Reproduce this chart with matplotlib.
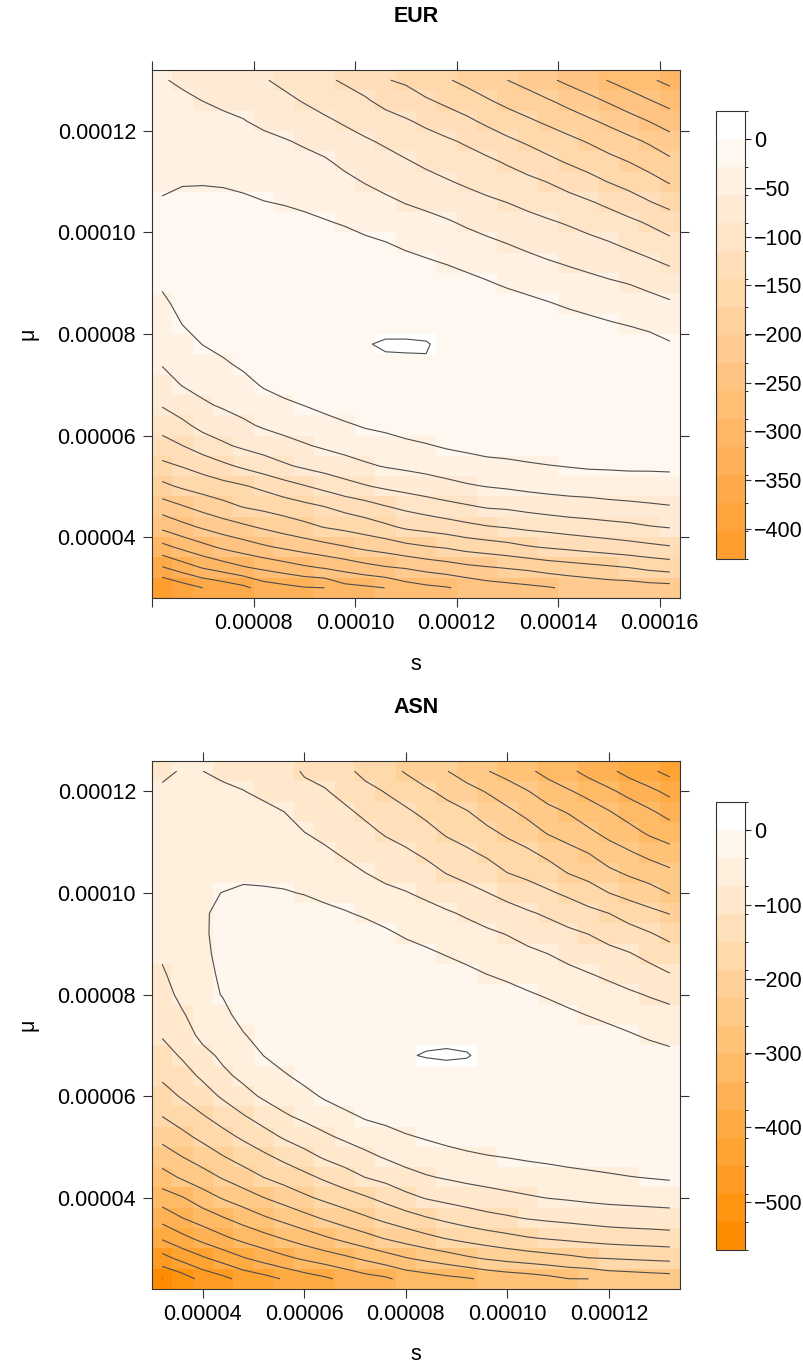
import numpy as np
import matplotlib
matplotlib.use("Agg")
import matplotlib.pyplot as plt
from matplotlib.colors import ListedColormap, BoundaryNorm, to_rgb
from matplotlib.cm import ScalarMappable

plt.rcParams['font.family'] = ['Liberation Sans', 'DejaVu Sans']

# parameter grids: s along x, mu along y
eur_s = np.round(np.linspace(0.000062, 0.000162, 26), 7)
eur_mu = np.round(np.linspace(0.000030, 0.000130, 26), 7)
asn_s = np.round(np.linspace(0.000032, 0.000132, 26), 7)
asn_mu = np.round(np.linspace(0.000024, 0.000124, 26), 7)

# log-likelihood surface, one list per s value (mu from low to high)
eur_ll = [
    [-402.5, -347, -296, -252, -215, -179, -150, -126, -104, -84, -69, -56, -48, -41, -33, -25.5, -23, -22.5, -23.5, -27, -32, -37, -42, -48, -53, -56],
    [-388, -330, -281, -238, -203, -168, -142, -115, -92, -72.5, -56, -47, -37, -28, -22, -18, -16, -15.5, -17, -22, -30.5, -36, -42, -48, -54, -60],
    [-373.5, -314, -267, -226, -191, -160, -132, -101, -78, -61, -49, -39, -28, -20, -14, -11, -10, -10, -12, -18, -31, -37, -43.5, -50.5, -57.5, -64],
    [-364, -302, -254, -215, -181, -153, -120.5, -90, -71, -54, -43, -32, -22, -14, -9, -7, -6, -6.5, -9, -20, -32, -38.5, -45.5, -53.5, -61, -68],
    [-352, -290, -244, -206, -171, -146, -110, -81, -62, -48, -36, -24.5, -15, -8, -4, -2.5, -3, -6, -14, -25, -33, -41, -48.5, -56.5, -64, -71.5],
    [-332, -281, -234, -197, -165, -137, -100, -74, -54, -39.5, -26, -16, -8, -3, -2, -1.5, -2.5, -5, -13, -28, -36, -44, -52, -62, -74, -84],
    [-325, -272, -226, -188, -158.5, -126, -90, -66, -48.5, -33.5, -19, -10, -4, -1.5, -1, -1.5, -3, -10, -21, -30, -38.5, -47, -55.5, -68, -80, -92],
    [-318, -263, -218, -180, -151, -116.5, -81.5, -59.5, -43.5, -28, -15, -6, -1.5, -0.5, -0.5, -1, -4, -12, -23.5, -33, -41.5, -50.5, -60.5, -74.5, -88, -101],
    [-316, -256, -210.5, -171, -143.5, -106.5, -74.5, -53.5, -38, -21.5, -10, -3.5, -0.8, -0.3, -0.5, -1.5, -6, -16, -27, -36.5, -45.5, -54.5, -67, -82, -96, -110.5],
    [-297, -248, -203, -165, -134, -96, -68, -48, -32, -14.5, -5, -1, -0.8, -0.6, -0.8, -2, -7, -20.5, -30.5, -41, -51.5, -63, -76, -89.5, -104.5, -118],
    [-292.5, -239, -195, -158, -126, -88, -61, -43, -26, -10, -3, -0.7, -0.15, -0.8, -1.5, -4, -12, -24.5, -35.5, -47, -58.5, -70.5, -83, -97.5, -112, -126],
    [-287, -232, -189, -149, -116, -81, -55.5, -39, -22.5, -8, -2, -1, 1.0, -2, -3.5, -7, -14, -28, -40.5, -52.5, -65, -77, -90, -105.5, -122.5, -142],
    [-272, -227.5, -180.5, -139, -108, -75.5, -52, -34.5, -17, -6, -2.5, -1.8, 1.8, -4.4, -5.5, -11, -21, -33.5, -45.5, -58.5, -71.5, -84, -98, -112.5, -130, -148],
    [-265, -220, -174.5, -134, -101, -70.5, -48.5, -30.5, -12.5, -4, -1.2, -0.15, 0.6, -1.7, -7, -15, -25.5, -37.5, -49.5, -63.5, -77.5, -91.5, -105, -120.5, -140.5, -160.5],
    [-260.5, -214, -170, -128.5, -94.5, -65, -44.5, -25.5, -10, -3.5, -1.5, -1, -1.15, -3, -7, -17, -29.5, -42, -54.5, -69.5, -84, -97.5, -111, -130, -149.5, -169.5],
    [-252, -207.5, -162.5, -122, -89, -60, -40.5, -22, -8.5, -3, -1.5, -1.5, -2.5, -5, -10, -21.5, -34.5, -47.5, -61, -76, -90, -103.5, -118.5, -138.5, -159, -179.5],
    [-244, -203, -158, -116.5, -83.5, -56.5, -37, -18, -7, -3, -2, -2.5, -4, -7, -14, -26.5, -39.5, -53, -66.5, -81.5, -96, -110, -128, -149.5, -170, -189],
    [-240, -199, -153, -113, -81.5, -53.5, -35, -16.5, -6.5, -3, -2.5, -3.5, -5.5, -9, -18, -32, -45, -58, -72, -86.5, -102, -118, -138.5, -159.5, -180, -201],
    [-236, -195, -146, -108.5, -77, -50, -32, -14, -6, -3, -3, -4.5, -7, -11, -22.5, -36.5, -50, -63.5, -77.5, -93, -108.5, -127, -147.5, -168.5, -189, -211],
    [-232, -188.5, -141.5, -105, -73, -47.5, -29.5, -11.5, -5.5, -3.5, -3.5, -5.5, -8.5, -16, -27, -41.5, -55, -69, -83, -99.5, -115.5, -137, -157, -177.5, -199, -224.5],
    [-225.5, -184.5, -137.5, -101, -70, -45.5, -27.5, -11, -5.5, -4, -4, -6.5, -10, -18.5, -32, -46, -59.5, -74, -88.5, -105.5, -124.5, -146.5, -165.5, -187, -210, -236.5],
    [-221.5, -180.5, -133, -98, -68, -44.5, -25.5, -10.5, -5.5, -4.5, -5, -7.5, -12, -22.5, -36, -50, -64, -79.5, -95, -112.5, -134.5, -155, -174.5, -197, -221.5, -248],
    [-217.5, -176.5, -129, -95, -65, -43, -25, -10, -5.5, -5, -6, -9, -15, -26.5, -40, -54, -69.5, -85, -101.5, -121, -144.5, -164.5, -184.5, -207.5, -233.5, -260],
    [-216.5, -172, -125, -92, -63, -42, -24, -10, -6, -5.5, -7, -10.5, -16, -30, -43.5, -58, -75, -92, -109, -131.5, -153.5, -173, -194, -219.5, -245.5, -271.5],
    [-213, -165.5, -121, -87.5, -60, -44.5, -23, -10, -6.5, -6, -8, -12.5, -20, -34, -48.5, -64, -81.5, -99.5, -118, -142.5, -163, -183.5, -205, -231, -257.5, -283],
    [-211.5, -161, -117, -84.5, -58.5, -40.5, -23.5, -10.5, -7, -7, -9.5, -16, -26.5, -40, -54, -71, -89, -108, -129, -152.5, -174.5, -195.5, -218.5, -243.5, -269, -295],
]

asn_ll = [
    [-528, -466, -410, -362.5, -319, -278.5, -244.5, -215, -188, -165, -144, -127, -110, -100.5, -90.5, -80, -70, -64, -59, -56, -55, -56, -60, -65, -72, -79],
    [-508, -441, -387, -339, -303, -258.5, -226, -197, -171, -146.5, -126.5, -108.5, -93, -78.5, -64.5, -57, -52, -49, -47, -46, -46, -48, -52, -58, -65, -73.5],
    [-478, -420, -365, -321, -280, -241, -208.5, -179, -153, -128.5, -106.5, -86.5, -65, -56, -49, -44, -41, -39.5, -39, -40, -42, -46, -52, -59, -67, -75],
    [-461.5, -400, -346, -303, -260, -222.5, -190, -161.5, -135, -107.5, -82.5, -67.5, -56.5, -46, -35.5, -33.5, -32.5, -32.5, -34, -37, -43.5, -50.5, -58, -64.5, -71.5, -79],
    [-440, -380, -328.5, -285.5, -243.5, -205, -173.5, -144.5, -115.5, -86.5, -67, -53.5, -39.5, -26, -20, -17, -16, -17, -24, -34, -42, -50, -58.5, -66.5, -74.5, -82.5],
    [-428, -363, -314, -268, -226, -188, -158, -127, -97, -70, -53.5, -37, -25, -17, -12, -10, -10, -14, -22, -34.5, -43, -52, -61.5, -70, -79.5, -90],
    [-411, -347.5, -299, -252.5, -210.5, -174, -142, -108.5, -79.5, -59, -41, -23, -14, -8, -5, -4.5, -6, -10, -21, -35.5, -45, -55, -65, -75, -86, -98],
    [-395.5, -334, -283.5, -237, -194.5, -160, -125.5, -94, -68, -47.5, -27.5, -16, -8, -3.5, -1.5, -1, -5, -13, -26.5, -38.5, -49.5, -61.5, -75, -89, -102.5, -117],
    [-383, -321.5, -268.5, -221.5, -180, -144.5, -108.5, -80.5, -57, -33, -19, -10, -4.5, -1.5, -0.8, -1.5, -7, -17, -30.5, -44, -57, -70, -83.5, -97, -110, -124.5],
    [-367, -309.5, -253.5, -206, -167.5, -128.5, -96, -69, -45.5, -21, -10.5, -4.5, -1.5, -0.6, -0.6, -2, -9, -20, -35, -50.5, -65.5, -79.5, -93.5, -107, -122.5, -141.5],
    [-353.5, -295.5, -238.5, -192.5, -154, -112.5, -84, -58, -33.5, -14, -5, -1.5, -0.5, -0.5, -1.5, -5, -13, -25, -41.5, -58.5, -75, -89, -104, -119.5, -139.5, -160.5],
    [-345, -281, -223.5, -178, -139, -102, -72, -49.5, -27.5, -10, -2.5, -0.6, -0.4, -1, -2.5, -7, -17, -32.5, -49.5, -67.5, -84, -99.5, -116.5, -134.5, -152, -173.5],
    [-327.5, -266.5, -210.5, -165, -123, -87.5, -62, -40.5, -19.5, -6.5, -2.5, -0.3, -0.6, -2, -4.5, -11, -25.5, -41.5, -57, -73.5, -90.5, -108, -126.5, -145, -167, -191.5],
    [-320, -255, -198, -152.5, -110, -78, -55.5, -34, -14, -4, -3.5, 0.8, -1.5, -4, -8, -17, -32, -48, -64, -81.5, -100.5, -119.5, -139, -159.5, -182.5, -209],
    [-311.5, -244.5, -186.5, -141.5, -102, -72, -49.5, -27.5, -11, -4.5, -3.5, 1.5, -2, -5.5, -12, -23, -39, -55, -71, -92.5, -114, -134, -155.5, -175, -197, -224.5],
    [-305, -232.5, -176.5, -131.5, -95.5, -66, -44, -22, -9, -4.5, -3.5, 0.9, -2.5, -6.5, -16, -30, -46, -62, -79.5, -102, -123.5, -145, -166, -186, -213.5, -242.5],
    [-294.5, -223, -168, -123, -89, -62, -39.5, -17.5, -8, -4.5, -4, -2, -4.5, -9, -22, -37.5, -53.5, -69.5, -89, -112, -134.5, -157, -180.5, -204, -228, -262],
    [-287.5, -215, -160.5, -117, -83.5, -58, -36.5, -17, -8, -5, -5, -4, -7, -13, -26.5, -44, -60.5, -76.5, -99, -123.5, -150.5, -172, -195, -218.5, -246, -276.5],
    [-282.5, -208.5, -153, -110.5, -78.5, -54.5, -33, -16, -8, -5.5, -5.5, -5.5, -9, -19, -34, -51.5, -67.5, -87, -108.5, -135, -159.5, -182.5, -209.5, -236, -262, -293.5],
    [-275, -202.5, -148, -106, -74, -51.5, -30, -14.5, -8, -6, -6.5, -7.5, -12, -24, -41, -58.5, -75, -96.5, -118, -145.5, -171, -198.5, -229.5, -253, -281, -314],
    [-264, -197, -143.5, -102.5, -71, -48, -26.5, -13.5, -8, -6.5, -7.5, -9.5, -17, -31.5, -48.5, -66, -84.5, -105.5, -129, -157, -189.5, -215, -241, -266, -297.5, -329.5],
    [-263.5, -190, -139.5, -98.5, -67.5, -45, -23.5, -12.5, -8, -7, -8.5, -12, -20, -38.5, -55.5, -73.5, -93.5, -113.5, -140, -171.5, -201, -227, -257.5, -283.5, -312.5, -352],
    [-251, -188, -135, -95, -65, -42, -20, -12, -8, -7.5, -9.5, -15, -28, -45, -62.5, -81.5, -102.5, -125.5, -150.5, -188, -218, -247, -274.5, -299, -332, -368],
    [-248, -185, -132.5, -93, -63.5, -38.5, -18, -11.5, -8, -8, -10.5, -20, -34.5, -52.5, -70, -90.5, -110.5, -136, -166, -200.5, -231.5, -260.5, -289, -317.5, -350, -390],
    [-244.5, -182.5, -130.5, -91.5, -61.5, -36, -17, -11, -8.5, -9, -12, -23.5, -42, -59.5, -77.5, -100, -123, -148, -178.5, -211.5, -243, -275, -307.5, -333.5, -367.5, -407],
    [-241.5, -180, -128, -89.5, -60, -33.5, -16.5, -11, -9, -10, -16, -29.5, -47.5, -65, -84.5, -111.5, -135, -161.5, -189.5, -227, -255.5, -288, -320.5, -352, -386, -425.5],
]

# colour key range and labels
eur_zlim = (-431, 29)
asn_zlim = (-565, 38)
eur_cticks = [0, -50, -100, -150, -200, -250, -300, -350, -400]
asn_cticks = [0, -100, -200, -300, -400, -500]

eur_xticks = [0.00006, 0.00008, 0.00010, 0.00012, 0.00014, 0.00016]
eur_xlabels = ['', '0.00008', '0.00010', '0.00012', '0.00014', '0.00016']
asn_xticks = [0.00004, 0.00006, 0.00008, 0.00010, 0.00012]
asn_xlabels = ['0.00004', '0.00006', '0.00008', '0.00010', '0.00012']
mu_ticks = [0.00004, 0.00006, 0.00008, 0.00010, 0.00012]
mu_labels = ['0.00004', '0.00006', '0.00008', '0.00010', '0.00012']

W, H = 804, 1369
FS = 15.5
fig = plt.figure(figsize=(W / 100, H / 100), dpi=100)


def box(x0, y0, x1, y1):
    # pixel box (top-left origin) -> figure fraction rect
    return [x0 / W, 1 - y1 / H, (x1 - x0) / W, (y1 - y0) / H]


def band_cmap(low, n=16):
    lo = np.array(to_rgb(low))
    return ListedColormap([tuple(lo + (1 - lo) * k / (n - 1)) for k in range(n)])


def panel(rect, crect, s, mu, ll, zlim, low, xticks, xlabels, cticks, title, ty, ly):
    z = np.array(ll).T
    levels = np.linspace(zlim[0], zlim[1], 17)
    cmap = band_cmap(low)
    norm = BoundaryNorm(levels, cmap.N)

    ax = fig.add_axes(rect)
    ax.pcolormesh(s, mu, z, shading='nearest', cmap=cmap, norm=norm,
                  antialiased=False, linewidth=0)
    ax.contour(s, mu, z, levels=levels, colors='#4d4d4d', linewidths=0.8,
               linestyles='solid')
    ds = s[1] - s[0]
    dm = mu[1] - mu[0]
    ax.set_xlim(s[0] - ds / 2, s[-1] + ds / 2)
    ax.set_ylim(mu[0] - dm / 2, mu[-1] + dm / 2)
    ax.set_xticks(xticks)
    ax.set_xticklabels(xlabels)
    ax.set_yticks(mu_ticks)
    ax.set_yticklabels(mu_labels)
    ax.tick_params(direction='out', length=6.5, width=0.8, labelsize=FS,
                   top=True, right=True, colors='#333333', labelcolor='black')
    ax.tick_params(axis='x', pad=4)
    ax.tick_params(axis='y', pad=5)
    for sp in ax.spines.values():
        sp.set_linewidth(0.8)
        sp.set_color('#333333')

    cax = fig.add_axes(crect)
    cb = fig.colorbar(ScalarMappable(norm=norm, cmap=cmap), cax=cax, ticks=cticks)
    cb.set_ticklabels([str(t).replace('-', '\u2212') for t in cticks])
    cb.outline.set_linewidth(0.8)
    cb.outline.set_edgecolor('#333333')
    cax.tick_params(length=4.5, width=0.8, labelsize=FS, pad=2, colors='#333333',
                    labelcolor='black')

    fig.text(416 / W, 1 - ty / H, title, ha='center', va='center',
             fontsize=FS, fontweight='bold')
    fig.text(416 / W, 1 - ly / H, 's', ha='center', va='center', fontsize=FS)


panel(box(152, 70, 680, 598), box(716, 111, 745, 559), eur_s, eur_mu, eur_ll,
      eur_zlim, '#FF9D2E', eur_xticks, eur_xlabels, eur_cticks, 'EUR', 17, 664)
panel(box(152, 761, 680, 1289), box(716, 802, 745, 1250), asn_s, asn_mu, asn_ll,
      asn_zlim, '#FF8C00', asn_xticks, asn_xlabels, asn_cticks, 'ASN', 708, 1355)

fig.text(28 / W, 1 - 334 / H, '\u03bc', rotation=90, ha='center', va='center', fontsize=FS)
fig.text(28 / W, 1 - 1025 / H, '\u03bc', rotation=90, ha='center', va='center', fontsize=FS)

fig.savefig('out.png', dpi=100)
